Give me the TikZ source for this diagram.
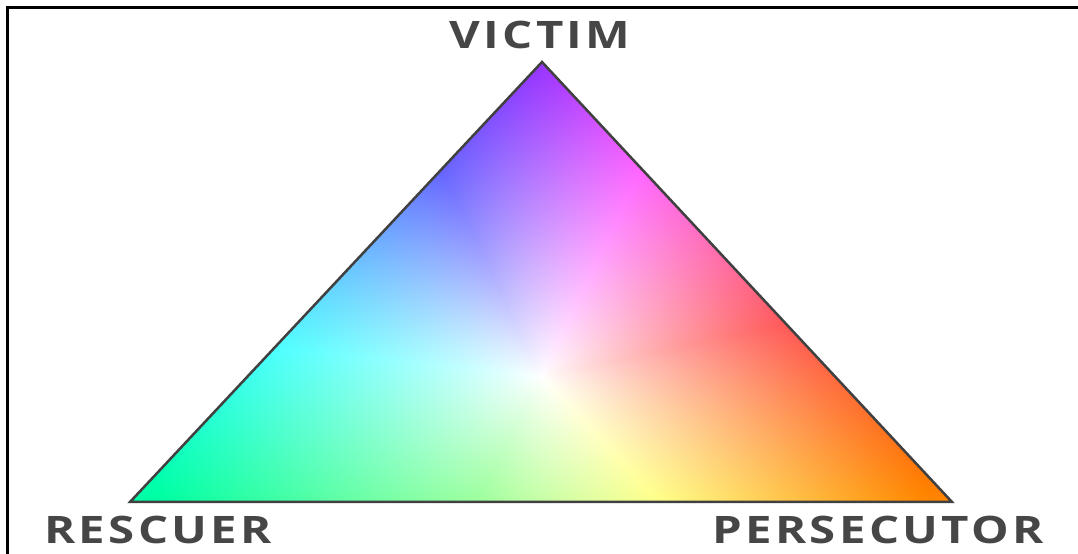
\documentclass[tikz,border=0pt]{standalone}
\usepackage{fontspec}
\usepackage{xcolor}
\usepackage{tikz}
\usetikzlibrary{positioning,calc}

\newfontfamily\rolefont{Open Sans}[LetterSpace=9,FakeStretch=1.25]
\definecolor{rolegray}{HTML}{464646}
\definecolor{edgegray}{HTML}{404040}

% hue runs round the centre, white in the middle
\pgfdeclarefunctionalshading{dramahue}{\pgfpointorigin}{\pgfpoint{1078bp}{554bp}}{}{
  178 sub exch 541.0013 sub
  2 copy dup mul exch dup mul add sqrt
  400 div 0.9 exp
  dup 1 sub abs neg add 1 add 2 div
  3 1 roll
  atan
  dup sin -3.82 mul
  1 index cos 9.46 mul add 3.82 add
  exch sub 360 add
  dup 360 div floor 360 mul sub
  60 div
  2 copy 3 sub abs 1 sub
  dup abs add 2 div dup 1 sub abs neg add 1 add 2 div
  1 exch sub mul 1 exch sub
  3 1 roll
  2 copy 2 sub abs 2 exch sub
  dup abs add 2 div dup 1 sub abs neg add 1 add 2 div
  1 exch sub mul 1 exch sub
  3 1 roll
  4 sub abs 2 exch sub
  dup abs add 2 div dup 1 sub abs neg add 1 add 2 div
  1 exch sub mul 1 exch sub
}

\tikzset{
  role/.style={font=\rolefont\bfseries\fontsize{38}{42}\selectfont, text=rolegray, inner sep=0pt, text depth=0pt},
  edge/.style={draw=edgegray, line width=2.5bp, line join=miter}
}

\begin{document}
\begin{tikzpicture}[x=1bp, y=1bp]
  \useasboundingbox (0,0) rectangle (1078,554);
  % frame, only left and top show
  \draw[line width=3bp] (7,-10) -- (7,546) -- (1090,546);

  % corners of the triangle
  \coordinate (victim) at (542,492);
  \coordinate (rescuer) at (130,52);
  \coordinate (persecutor) at (952,52);

  % colour fill
  \begin{scope}
    \clip (victim) -- (rescuer) -- (persecutor) -- cycle;
    \node[inner sep=0pt, anchor=south west] (huefill) at (0,0) {\pgfuseshading{dramahue}};
  \end{scope}
  \draw[edge] (victim) -- (rescuer) -- (persecutor) -- cycle;

  % roles
  \node[role, anchor=base] (victimlabel) at (540,505) {VICTIM};
  \node[role, anchor=base] (rescuerlabel) at (158,10) {RESCUER};
  \node[role, anchor=base] (persecutorlabel) at (878,10) {PERSECUTOR};
\end{tikzpicture}
\end{document}
